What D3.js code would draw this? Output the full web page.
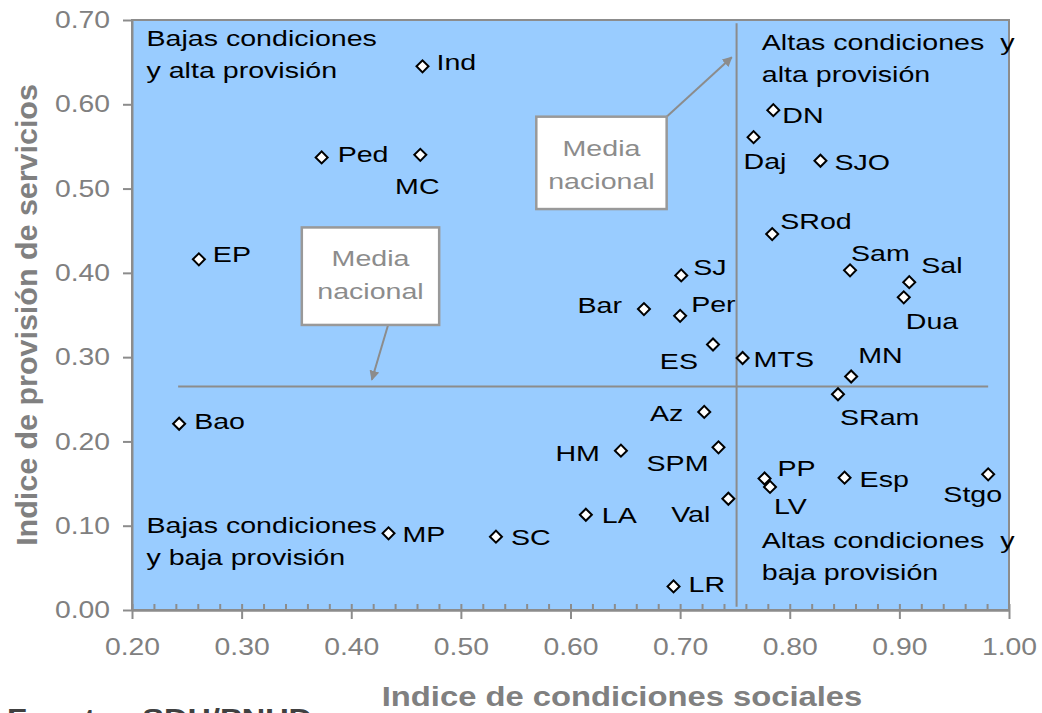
<!DOCTYPE html>
<html>
<head>
<meta charset="utf-8">
<script src="https://cdn.jsdelivr.net/npm/d3@7"></script>
<style>
  body { margin: 0; background: #fff; }
  text { font-family: "Liberation Sans", Arial, sans-serif; }
</style>
</head>
<body>
<div id="root"></div>
<script>
// comunas: nombre, índice de condiciones sociales (x), índice de provisión de servicios (y)
const names = ['Ind','Ped','MC','EP','Bao','MP','SC','LA','HM','LR','Az','SPM','Val','Bar','Per','SJ','ES','MTS',
  'DN','Daj','SJO','SRod','Sam','Sal','Dua','MN','SRam','PP','LV','Esp','Stgo'];
const condSociales = [0.465,0.373,0.463,0.261,0.243,0.434,0.532,0.614,0.646,0.694,0.722,0.735,0.744,0.667,0.700,0.701,0.730,0.757,
  0.785,0.767,0.828,0.784,0.855,0.909,0.904,0.856,0.844,0.777,0.782,0.850,0.981];
const provServicios = [0.645,0.537,0.540,0.416,0.221,0.091,0.087,0.113,0.189,0.028,0.235,0.193,0.132,0.357,0.349,0.397,0.315,0.299,
  0.593,0.561,0.533,0.446,0.403,0.389,0.371,0.277,0.256,0.156,0.146,0.157,0.161];

const mediaX = 0.7515;   // media nacional condiciones sociales
const mediaY = 0.2653;   // media nacional provisión de servicios

const xTicks = [0.2,0.3,0.4,0.5,0.6,0.7,0.8,0.9,1.0];
const yTicks = [0,0.1,0.2,0.3,0.4,0.5,0.6,0.7];

// label placement: [dx, dy, anchor] relative to the marker
const labelPlace = {
  Ind:[14,4,'start'], Ped:[16,5,'start'], MC:[-3,39,'middle'], EP:[14,3,'start'], Bao:[15,5,'start'],
  MP:[14,9,'start'], SC:[15,8,'start'], LA:[16,8,'start'], HM:[-21,10,'end'], LR:[15,6,'start'],
  Az:[-21,9,'end'], SPM:[-10,24,'end'], Val:[-18,23,'end'], Bar:[-22,4,'end'], Per:[11,-4,'start'],
  SJ:[12,0,'start'], ES:[-15,24,'end'], MTS:[11,9,'start'], DN:[9,13,'start'], Daj:[-10,32,'start'],
  SJO:[14,9,'start'], SRod:[8,-5,'start'], Sam:[1,-9,'start'], Sal:[12,-9,'start'], Dua:[2,32,'start'],
  MN:[7,-14,'start'], SRam:[2,31,'start'], PP:[13,-3,'start'], LV:[4,27,'start'], Esp:[15,9,'start'],
  Stgo:[14,28,'end']
};

const width = 1042, height = 713;
const margin = {top: 20, right: 33, bottom: 103, left: 132};
const grey = '#8c8c8c';
const wide = 1.3;   // the source text is drawn wide

const svg = d3.select('#root').append('svg')
  .attr('width', width).attr('height', height);

const x = d3.scaleLinear().domain([0.2, 1.0]).range([margin.left, width - margin.right]);
const y = d3.scaleLinear().domain([0, 0.7]).range([height - margin.bottom, margin.top]);

function label(parent, px, py, str, o = {}) {
  return parent.append('text')
    .attr('transform', `translate(${px},${py}) ${o.rotate ? 'rotate(' + o.rotate + ')' : ''} scale(${o.scale || wide},1)`)
    .attr('text-anchor', o.anchor || 'start')
    .attr('fill', o.fill || '#000')
    .style('font-size', (o.size || 22) + 'px')
    .style('font-weight', o.weight || 'normal')
    .text(str);
}

// plot area
svg.append('rect')
  .attr('x', x(0.2)).attr('y', y(0.7))
  .attr('width', x(1.0) - x(0.2)).attr('height', y(0) - y(0.7))
  .attr('fill', '#99ccff').attr('stroke', grey).attr('stroke-width', 2);

// axes
const fmt = d3.format('.2f');
const tickScale = 1.18;
const gx = svg.append('g').attr('transform', `translate(0,${y(0)})`)
  .call(d3.axisBottom(x).tickValues(xTicks).tickFormat(fmt).tickSizeInner(9).tickSizeOuter(0));
const gxMinor = svg.append('g').attr('transform', `translate(0,${y(0)})`)
  .call(d3.axisBottom(x).tickValues(d3.range(0.2, 1.0001, 0.02)).tickFormat('').tickSizeInner(-6).tickSizeOuter(0));
const gy = svg.append('g').attr('transform', `translate(${x(0.2)},0)`)
  .call(d3.axisLeft(y).tickValues(yTicks).tickFormat(fmt).tickSizeInner(9).tickSizeOuter(0));

[gx, gxMinor, gy].forEach(g => {
  g.select('.domain').attr('stroke', grey).attr('stroke-width', 2);
  g.selectAll('.tick line').attr('stroke', grey).attr('stroke-width', 2);
  g.selectAll('.tick text').attr('fill', '#808080').style('font-size', '24px')
    .style('font-family', '"Liberation Sans", Arial, sans-serif')
    .attr('transform', `scale(${tickScale},1)`);
});
gx.selectAll('.tick text').attr('y', 45.5).attr('dy', 0);
gy.selectAll('.tick text').attr('x', -22 / tickScale);

// mean lines
svg.append('line')
  .attr('x1', x(d3.min(condSociales)) - 1).attr('x2', x(d3.max(condSociales)))
  .attr('y1', y(mediaY)).attr('y2', y(mediaY))
  .attr('stroke', grey).attr('stroke-width', 2);
svg.append('line')
  .attr('x1', x(mediaX)).attr('x2', x(mediaX))
  .attr('y1', y(0.696)).attr('y2', y(0.004))
  .attr('stroke', grey).attr('stroke-width', 2);

// arrowhead
svg.append('defs').append('marker')
  .attr('id', 'arrow').attr('viewBox', '0 0 10 10').attr('refX', 9).attr('refY', 5)
  .attr('markerWidth', 5).attr('markerHeight', 5).attr('orient', 'auto')
  .append('path').attr('d', 'M0,0 L10,5 L0,10 Z').attr('fill', grey);

// "Media nacional" callouts (data coordinates)
const callouts = [
  {x0: 0.3549, x1: 0.4802, y0: 0.4539, y1: 0.3382, from: [0.4336, 0.3382], to: [0.4188, 0.2732]},
  {x0: 0.5688, x1: 0.6877, y0: 0.5853, y1: 0.4757, from: [0.6877, 0.5853], to: [0.7471, 0.6558]}
];
callouts.forEach(c => {
  svg.append('line')
    .attr('x1', x(c.from[0])).attr('y1', y(c.from[1]))
    .attr('x2', x(c.to[0])).attr('y2', y(c.to[1]))
    .attr('stroke', grey).attr('stroke-width', 2).attr('marker-end', 'url(#arrow)');
  svg.append('rect')
    .attr('x', x(c.x0)).attr('y', y(c.y0))
    .attr('width', x(c.x1) - x(c.x0)).attr('height', y(c.y1) - y(c.y0))
    .attr('fill', '#fff').attr('stroke', '#999').attr('stroke-width', 2.5);
  const cx = (x(c.x0) + x(c.x1)) / 2, top = y(c.y0);
  label(svg, cx, top + 39, 'Media', {anchor: 'middle', fill: '#8c8c8c'});
  label(svg, cx, top + 72, 'nacional', {anchor: 'middle', fill: '#8c8c8c'});
});

// quadrant labels
const quadrants = [
  {x: 0.2132, y: 0.669, lines: ['Bajas condiciones', 'y alta provisión']},
  {x: 0.7745, y: 0.664, lines: ['Altas condiciones\u00a0\u00a0y', 'alta provisión']},
  {x: 0.2132, y: 0.091, lines: ['Bajas condiciones', 'y baja provisión']},
  {x: 0.7745, y: 0.074, lines: ['Altas condiciones\u00a0\u00a0y', 'baja provisión']}
];
quadrants.forEach(q => {
  q.lines.forEach((l, i) => label(svg, x(q.x), y(q.y) + i * 32, l));
});

// points
const data = names.map((n, i) => ({name: n, x: condSociales[i], y: provServicios[i]}));
const diamond = d3.symbol().type(d3.symbolSquare).size(72);
svg.append('g').selectAll('path').data(data).join('path')
  .attr('d', diamond)
  .attr('transform', d => `translate(${x(d.x)},${y(d.y)}) rotate(45)`)
  .attr('fill', '#fff').attr('stroke', '#000').attr('stroke-width', 2);

const gl = svg.append('g');
data.forEach(d => {
  const p = labelPlace[d.name];
  label(gl, x(d.x) + p[0], y(d.y) + p[1], d.name, {anchor: p[2]});
});

// axis titles
label(svg, 622, 706, 'Indice de condiciones sociales',
  {anchor: 'middle', fill: '#808080', size: 28, weight: 'bold', scale: 1.17});
label(svg, 37, (y(0) + y(0.7)) / 2, 'Indice de provisión de servicios',
  {anchor: 'middle', fill: '#808080', size: 29, weight: 'bold', scale: 1.05, rotate: -90});

// source line (cut off at the bottom edge, as in the source)
label(svg, 7, 727, 'Fuente:\u00a0\u00a0SDH/PNUD', {fill: '#404040', size: 26, weight: 'bold', scale: 1.25});
</script>
</body>
</html>
